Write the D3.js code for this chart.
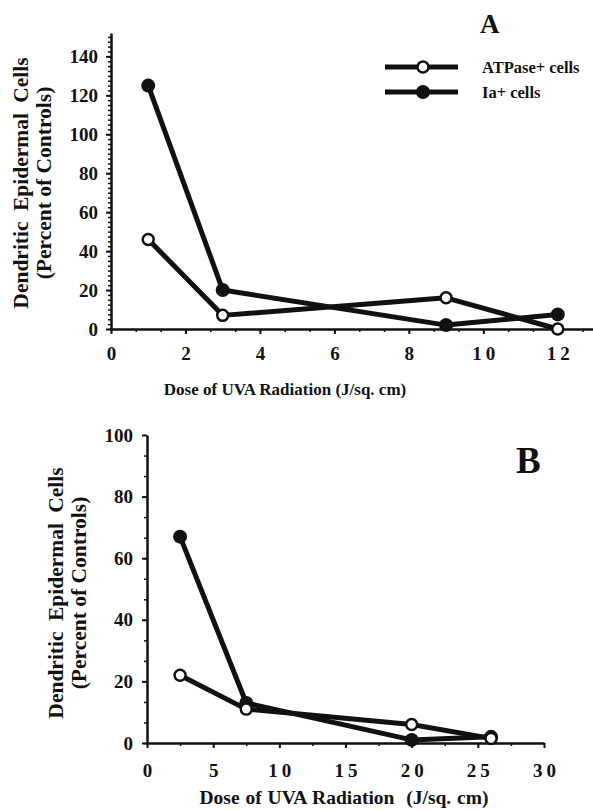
<!DOCTYPE html>
<html>
<head>
<meta charset="utf-8">
<script src="https://cdn.jsdelivr.net/npm/d3@7"></script>
<style>
  body { margin: 0; background: #fff; }
  svg text { font-family: "Liberation Serif", "Times New Roman", "DejaVu Serif", serif !important; font-weight: bold; fill: #111; }
</style>
</head>
<body>
<div id="chart"></div>
<script>
// Panel A data
var dosesA = [1, 3, 9, 12];
var atpaseA = [46, 7, 16, 0];
var iaA = [125, 20, 2, 7.5];
var yTicksA = [0, 20, 40, 60, 80, 100, 120, 140];
var xTicksA = [0, 2, 4, 6, 8, 10, 12];

// Panel B data
var dosesB = [2.5, 7.5, 20, 26];
var atpaseB = [22, 11, 6, 1.5];
var iaB = [67, 13, 1, 2];
var yTicksB = [0, 20, 40, 60, 80, 100];
var xTicksB = [0, 5, 10, 15, 20, 25, 30];

var seriesNames = ["ATPase+ cells", "Ia+ cells"];

var width = 593, height = 811;
var ink = "#111";
var serif = "'Liberation Serif', 'Times New Roman', serif";

var svg = d3.select("#chart").append("svg")
    .attr("width", width)
    .attr("height", height)
    .attr("font-family", serif);

function drawPanel(p) {
    var g = svg.append("g");
    var x = d3.scaleLinear().domain(p.xDomain).range(p.xRange);
    var y = d3.scaleLinear().domain(p.yDomain).range(p.yRange);

    // minor ticks
    g.append("g")
        .attr("transform", "translate(" + p.xRange[0] + ",0)")
        .call(d3.axisLeft(y).tickValues(d3.range(0, p.yDomain[1], p.yMinor)).tickSize(3).tickFormat(""))
        .call(function (a) { a.select(".domain").remove(); a.selectAll("line").attr("stroke", ink).attr("stroke-width", 1.5); });
    g.append("g")
        .attr("transform", "translate(0," + p.yRange[0] + ")")
        .call(d3.axisBottom(x).tickValues(d3.range(0, p.xDomain[1], p.xMinor)).tickSize(3).tickFormat(""))
        .call(function (a) { a.select(".domain").remove(); a.selectAll("line").attr("stroke", ink).attr("stroke-width", 1.5); });

    // major axes
    var ya = g.append("g")
        .attr("transform", "translate(" + p.xRange[0] + ",0)")
        .call(d3.axisLeft(y).tickValues(p.yTicks).tickSize(5).tickSizeOuter(0).tickPadding(p.yPad));
    var xa = g.append("g")
        .attr("transform", "translate(0," + p.yRange[0] + ")")
        .call(d3.axisBottom(x).tickValues(p.xTicks).tickSize(5).tickSizeOuter(0).tickPadding(p.xPad));
    [ya, xa].forEach(function (a) {
        a.attr("font-family", serif).attr("font-size", 19);
        a.select(".domain").attr("stroke", ink).attr("stroke-width", 2.5);
        a.selectAll(".tick line").attr("stroke", ink).attr("stroke-width", 2);
        a.selectAll("text").attr("fill", ink);
    });
    xa.selectAll("text").style("letter-spacing", "4px").attr("dx", "2");

    // axis titles
    g.append("text")
        .attr("transform", "translate(" + p.yLabelX[0] + "," + p.yLabelY + ") rotate(-90)")
        .attr("text-anchor", "middle")
        .attr("font-size", 21.5)
        .style("word-spacing", "5px")
        .attr("dy", "0.35em")
        .text("Dendritic Epidermal Cells");
    g.append("text")
        .attr("transform", "translate(" + p.yLabelX[1] + "," + p.yLabelY + ") rotate(-90)")
        .attr("text-anchor", "middle")
        .attr("font-size", 21.5)
        .attr("dy", "0.35em")
        .text("(Percent of Controls)");
    g.append("text")
        .attr("x", p.xLabel[0]).attr("y", p.xLabel[1])
        .attr("text-anchor", "middle")
        .attr("font-size", p.xLabelSize)
        .style("white-space", "pre")
        .style("word-spacing", p.xLabelSpacing + "px")
        .text(p.xLabelText);

    // panel letter
    g.append("text")
        .attr("x", p.letterPos[0]).attr("y", p.letterPos[1])
        .attr("font-size", p.letterSize)
        .text(p.letter);

    var line = d3.line()
        .x(function (d) { return x(d[0]); })
        .y(function (d) { return y(d[1]); });

    var open = p.doses.map(function (d, i) { return [d, p.atpase[i]]; });
    var filled = p.doses.map(function (d, i) { return [d, p.ia[i]]; });

    [open, filled].forEach(function (s) {
        g.append("path").datum(s)
            .attr("d", line)
            .attr("fill", "none")
            .attr("stroke", ink)
            .attr("stroke-width", 5)
            .attr("stroke-linejoin", "round");
    });
    g.selectAll(".dotf").data(filled).enter().append("circle")
        .attr("cx", function (d) { return x(d[0]); })
        .attr("cy", function (d) { return y(d[1]); })
        .attr("r", 7)
        .attr("fill", ink);
    g.selectAll(".doto").data(open).enter().append("circle")
        .attr("cx", function (d) { return x(d[0]); })
        .attr("cy", function (d) { return y(d[1]); })
        .attr("r", 5.5)
        .attr("fill", "#fff")
        .attr("stroke", ink)
        .attr("stroke-width", 2.5);
}

drawPanel({
    xDomain: [0, 13], xRange: [111, 595],
    yDomain: [0, 152], yRange: [329, 33],
    xTicks: xTicksA, yTicks: yTicksA, xMinor: 2 / 3, yMinor: 2.5,
    yPad: 8, xPad: 13,
    yLabelX: [20, 43], yLabelY: 183,
    xLabel: [285, 395], xLabelSize: 17, xLabelSpacing: 0, xLabelText: "Dose of UVA Radiation (J/sq. cm)",
    letter: "A", letterPos: [480, 33], letterSize: 27,
    doses: dosesA, atpase: atpaseA, ia: iaA
});

drawPanel({
    xDomain: [0, 30], xRange: [147, 544],
    yDomain: [0, 100], yRange: [743, 435],
    xTicks: xTicksB, yTicks: yTicksB, xMinor: 2.5, yMinor: 20 / 3,
    yPad: 9, xPad: 16,
    yLabelX: [55, 78], yLabelY: 593,
    xLabel: [344, 804], xLabelSize: 19.5, xLabelSpacing: 1, xLabelText: "Dose of UVA Radiation  (J/sq. cm)",
    letter: "B", letterPos: [516, 473], letterSize: 37,
    doses: dosesB, atpase: atpaseB, ia: iaB
});

// legend (panel A)
var legend = svg.append("g");
var legendY = d3.scalePoint().domain(seriesNames).range([67, 92]);
seriesNames.forEach(function (name, i) {
    var ly = legendY(name);
    legend.append("line")
        .attr("x1", 385).attr("x2", 458)
        .attr("y1", ly).attr("y2", ly)
        .attr("stroke", ink).attr("stroke-width", 5);
    legend.append("circle")
        .attr("cx", 423).attr("cy", ly)
        .attr("r", i === 0 ? 5.5 : 7)
        .attr("fill", i === 0 ? "#fff" : ink)
        .attr("stroke", ink)
        .attr("stroke-width", i === 0 ? 2.5 : 0);
    legend.append("text")
        .attr("x", 482).attr("y", ly)
        .attr("dy", "0.35em")
        .attr("font-size", 16.5)
        .text(name);
});
</script>
</body>
</html>
